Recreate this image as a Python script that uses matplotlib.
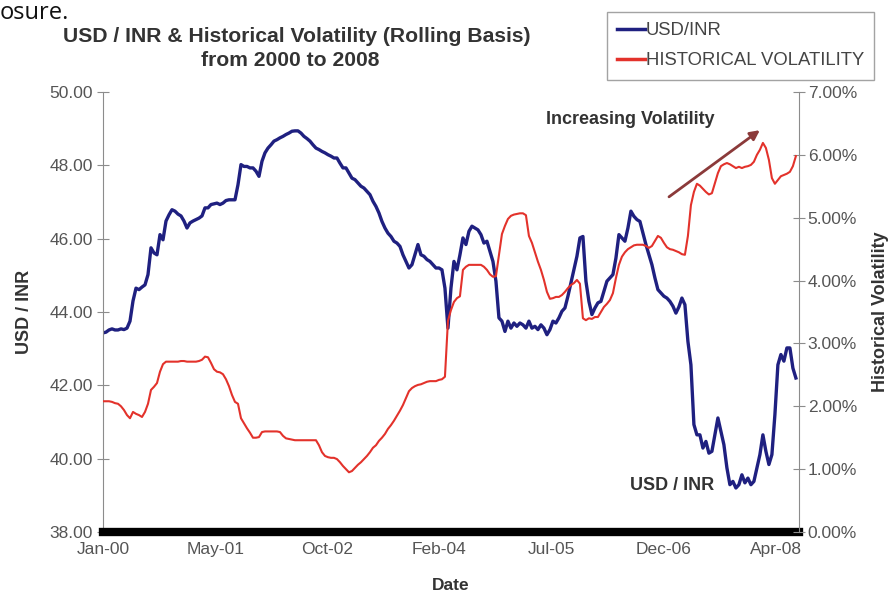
import pandas as pd
import matplotlib.pyplot as plt
import matplotlib.dates as mdates
from matplotlib.ticker import PercentFormatter, FormatStrFormatter

plt.rcParams["font.family"] = ["Liberation Sans", "DejaVu Sans"]

# USD/INR spot, sampled roughly every two weeks (Jan 2000 - Jul 2008)
usd_inr = [
    43.43, 43.45, 43.51, 43.54, 43.51, 43.51, 43.54, 43.52, 43.56, 43.75,
    44.30, 44.65, 44.61, 44.68, 44.74, 45.02, 45.75, 45.61, 45.56, 46.11,
    45.97, 46.48, 46.65, 46.79, 46.75, 46.67, 46.62, 46.48, 46.29, 46.43,
    46.48, 46.52, 46.56, 46.62, 46.84, 46.84, 46.93, 46.95, 46.97, 46.93,
    46.97, 47.04, 47.06, 47.06, 47.06, 47.47, 48.02, 47.97, 47.97, 47.93,
    47.93, 47.84, 47.70, 48.11, 48.34, 48.47, 48.56, 48.66, 48.70, 48.75,
    48.79, 48.84, 48.88, 48.93, 48.94, 48.94, 48.88, 48.79, 48.73, 48.66,
    48.56, 48.47, 48.43, 48.38, 48.34, 48.29, 48.25, 48.20, 48.20, 48.06,
    47.93, 47.93, 47.79, 47.65, 47.61, 47.52, 47.43, 47.38, 47.29, 47.20,
    47.02, 46.88, 46.70, 46.47, 46.29, 46.15, 46.06, 45.93, 45.88, 45.79,
    45.56, 45.38, 45.20, 45.29, 45.56, 45.84, 45.56, 45.52, 45.43, 45.38,
    45.29, 45.20, 45.20, 45.15, 44.65, 43.56, 44.65, 45.38, 45.15, 45.56,
    46.02, 45.84, 46.20, 46.34, 46.29, 46.24, 46.11, 45.88, 45.93, 45.66,
    45.38, 44.84, 43.84, 43.75, 43.47, 43.75, 43.56, 43.70, 43.61, 43.70,
    43.65, 43.56, 43.75, 43.56, 43.61, 43.52, 43.65, 43.56, 43.38, 43.52,
    43.75, 43.70, 43.84, 44.02, 44.11, 44.43, 44.79, 45.15, 45.52, 46.02,
    46.06, 44.84, 44.29, 43.93, 44.11, 44.25, 44.29, 44.56, 44.84, 44.93,
    45.02, 45.47, 46.11, 46.02, 45.93, 46.29, 46.75, 46.61, 46.52, 46.47,
    46.15, 45.84, 45.56, 45.29, 44.93, 44.61, 44.52, 44.43, 44.38, 44.29,
    44.16, 43.97, 44.14, 44.38, 44.20, 43.20, 42.56, 40.93, 40.65, 40.65,
    40.29, 40.47, 40.15, 40.20, 40.65, 41.11, 40.75, 40.38, 39.75, 39.29,
    39.38, 39.20, 39.29, 39.56, 39.34, 39.47, 39.29, 39.38, 39.75, 40.11,
    40.65, 40.20, 39.84, 40.11, 41.20, 42.56, 42.84, 42.66, 43.02, 43.02,
    42.47, 42.20,
]

# rolling historical volatility, in percent
hist_vol = [
    2.08, 2.08, 2.08, 2.07, 2.05, 2.04, 2.00, 1.94, 1.86, 1.81,
    1.91, 1.88, 1.86, 1.83, 1.91, 2.04, 2.26, 2.31, 2.37, 2.55,
    2.67, 2.71, 2.71, 2.71, 2.71, 2.71, 2.72, 2.72, 2.71, 2.71,
    2.71, 2.71, 2.72, 2.74, 2.79, 2.78, 2.69, 2.59, 2.55, 2.54,
    2.51, 2.43, 2.32, 2.18, 2.07, 2.04, 1.81, 1.73, 1.65, 1.58,
    1.50, 1.50, 1.51, 1.59, 1.60, 1.60, 1.60, 1.60, 1.60, 1.59,
    1.53, 1.49, 1.48, 1.47, 1.46, 1.46, 1.46, 1.46, 1.46, 1.46,
    1.46, 1.46, 1.38, 1.27, 1.21, 1.19, 1.18, 1.18, 1.16, 1.11,
    1.05, 1.00, 0.95, 0.97, 1.02, 1.07, 1.11, 1.16, 1.21, 1.27,
    1.34, 1.38, 1.45, 1.50, 1.56, 1.64, 1.70, 1.77, 1.85, 1.93,
    2.02, 2.13, 2.24, 2.29, 2.32, 2.34, 2.35, 2.37, 2.39, 2.40,
    2.40, 2.40, 2.42, 2.43, 2.47, 3.36, 3.53, 3.66, 3.72, 3.75,
    4.17, 4.22, 4.25, 4.25, 4.25, 4.25, 4.25, 4.22, 4.17, 4.10,
    4.06, 4.07, 4.41, 4.74, 4.87, 4.98, 5.03, 5.05, 5.06, 5.07,
    5.07, 5.04, 4.71, 4.60, 4.45, 4.30, 4.17, 4.01, 3.82, 3.71,
    3.72, 3.74, 3.74, 3.77, 3.82, 3.88, 3.93, 3.96, 4.01, 3.95,
    3.40, 3.37, 3.40, 3.39, 3.42, 3.42, 3.50, 3.58, 3.63, 3.69,
    3.80, 4.04, 4.25, 4.38, 4.45, 4.50, 4.53, 4.56, 4.57, 4.57,
    4.57, 4.55, 4.52, 4.55, 4.63, 4.71, 4.68, 4.60, 4.53, 4.50,
    4.49, 4.47, 4.45, 4.42, 4.41, 4.71, 5.20, 5.41, 5.54, 5.51,
    5.46, 5.41, 5.37, 5.39, 5.55, 5.71, 5.82, 5.85, 5.87, 5.85,
    5.82, 5.79, 5.81, 5.79, 5.81, 5.82, 5.84, 5.89, 6.00, 6.08,
    6.19, 6.11, 5.92, 5.63, 5.54, 5.60, 5.66, 5.68, 5.70, 5.73,
    5.82, 5.98,
]

start, end = "2000-01-01", "2008-07-23"
usd_dates = pd.date_range(start, end, periods=len(usd_inr))
vol_dates = pd.date_range(start, end, periods=len(hist_vol))

# x ticks every 506 days, as in the original spreadsheet chart
tick_dates = [pd.Timestamp(start) + pd.Timedelta(days=506 * k) for k in range(7)]

grey_txt = "#555555"
dark_txt = "#333333"
axis_col = "#8c8c8c"

fig = plt.figure(figsize=(8.92, 5.95), dpi=100)
ax = fig.add_axes([103 / 892, 1 - 532 / 595, 696 / 892, 440 / 595])
ax2 = ax.twinx()

ax.plot(usd_dates, usd_inr, color="#1f2080", lw=2.4, label="USD/INR")
ax2.plot(vol_dates, hist_vol, color="#e3322b", lw=1.5, label="HISTORICAL VOLATILITY")

ax.set_xlim(pd.Timestamp(start), pd.Timestamp("2008-08-06"))
ax.set_ylim(38, 50)
ax2.set_ylim(0, 7)

ax.set_xticks(tick_dates)
ax.xaxis.set_major_formatter(mdates.DateFormatter("%b-%y"))
ax.set_yticks(range(38, 51, 2))
ax.yaxis.set_major_formatter(FormatStrFormatter("%.2f"))
ax2.set_yticks(range(0, 8))
ax2.yaxis.set_major_formatter(PercentFormatter(xmax=100, decimals=2))

# spines: grey side axes, heavy black base line, no top
for a in (ax, ax2):
    a.spines["top"].set_visible(False)
ax.spines["right"].set_visible(False)
ax2.spines["left"].set_visible(False)
ax2.spines["bottom"].set_visible(False)
ax.spines["left"].set_color(axis_col)
ax2.spines["right"].set_color(axis_col)
ax.spines["bottom"].set_color("black")
ax.spines["bottom"].set_linewidth(6)

ax.tick_params(axis="y", direction="inout", length=8.5, width=0.8, color=axis_col,
               labelcolor=grey_txt, labelsize=12.5, pad=3)
ax2.tick_params(axis="y", direction="inout", length=8.5, width=0.8, color=axis_col,
                labelcolor=grey_txt, labelsize=12.5, pad=2)
ax.tick_params(axis="x", length=0, labelcolor=grey_txt, labelsize=12.5, pad=7)

ax.set_ylabel("USD / INR", fontsize=13, fontweight="bold", color=dark_txt, labelpad=12)
ax2.set_ylabel("Historical Volatility", fontsize=13, fontweight="bold", color=dark_txt,
               labelpad=11)
ax.set_xlabel("Date", fontsize=12.5, fontweight="bold", color=dark_txt, labelpad=15)

fig.text(297 / 892, 1 - 36 / 595, "USD / INR & Historical Volatility (Rolling Basis)",
         ha="center", va="center", fontsize=15.2, fontweight="bold", color=dark_txt)
fig.text(290 / 892, 1 - 61 / 595, "from 2000 to 2008",
         ha="center", va="center", fontsize=15.2, fontweight="bold", color=dark_txt)
fig.text(0.0, 1 - 19 / 595, "osure.", ha="left", va="baseline", fontsize=17,
         family="Open Sans", color="#111111")

ax.text(0.757, 0.937, "Increasing Volatility", transform=ax.transAxes, ha="center",
        va="center", fontsize=13, fontweight="bold", color=dark_txt)
ax.annotate("", xy=(0.947, 0.917), xytext=(0.810, 0.758), xycoords="axes fraction",
            textcoords="axes fraction",
            arrowprops=dict(arrowstyle="-|>", color="#8b3a3a", lw=2, mutation_scale=14))
ax.text(0.817, 0.106, "USD / INR", transform=ax.transAxes, ha="center", va="center",
        fontsize=13, fontweight="bold", color=dark_txt)

h1, l1 = ax.get_legend_handles_labels()
h2, l2 = ax2.get_legend_handles_labels()
leg = fig.legend(h1 + h2, l1 + l2, loc="upper left", bbox_to_anchor=(607 / 892, 1 - 12 / 595),
                 borderaxespad=0, fontsize=13.3, frameon=True, fancybox=False,
                 handlelength=1.5, handletextpad=0.05, labelspacing=0.72,
                 borderpad=0.55, labelcolor="#444444")
leg.get_frame().set_edgecolor("#8c8c8c")
leg.get_frame().set_linewidth(1)
for line in leg.get_lines():
    line.set_linewidth(2.5)

fig.savefig("out.png", dpi=100)
